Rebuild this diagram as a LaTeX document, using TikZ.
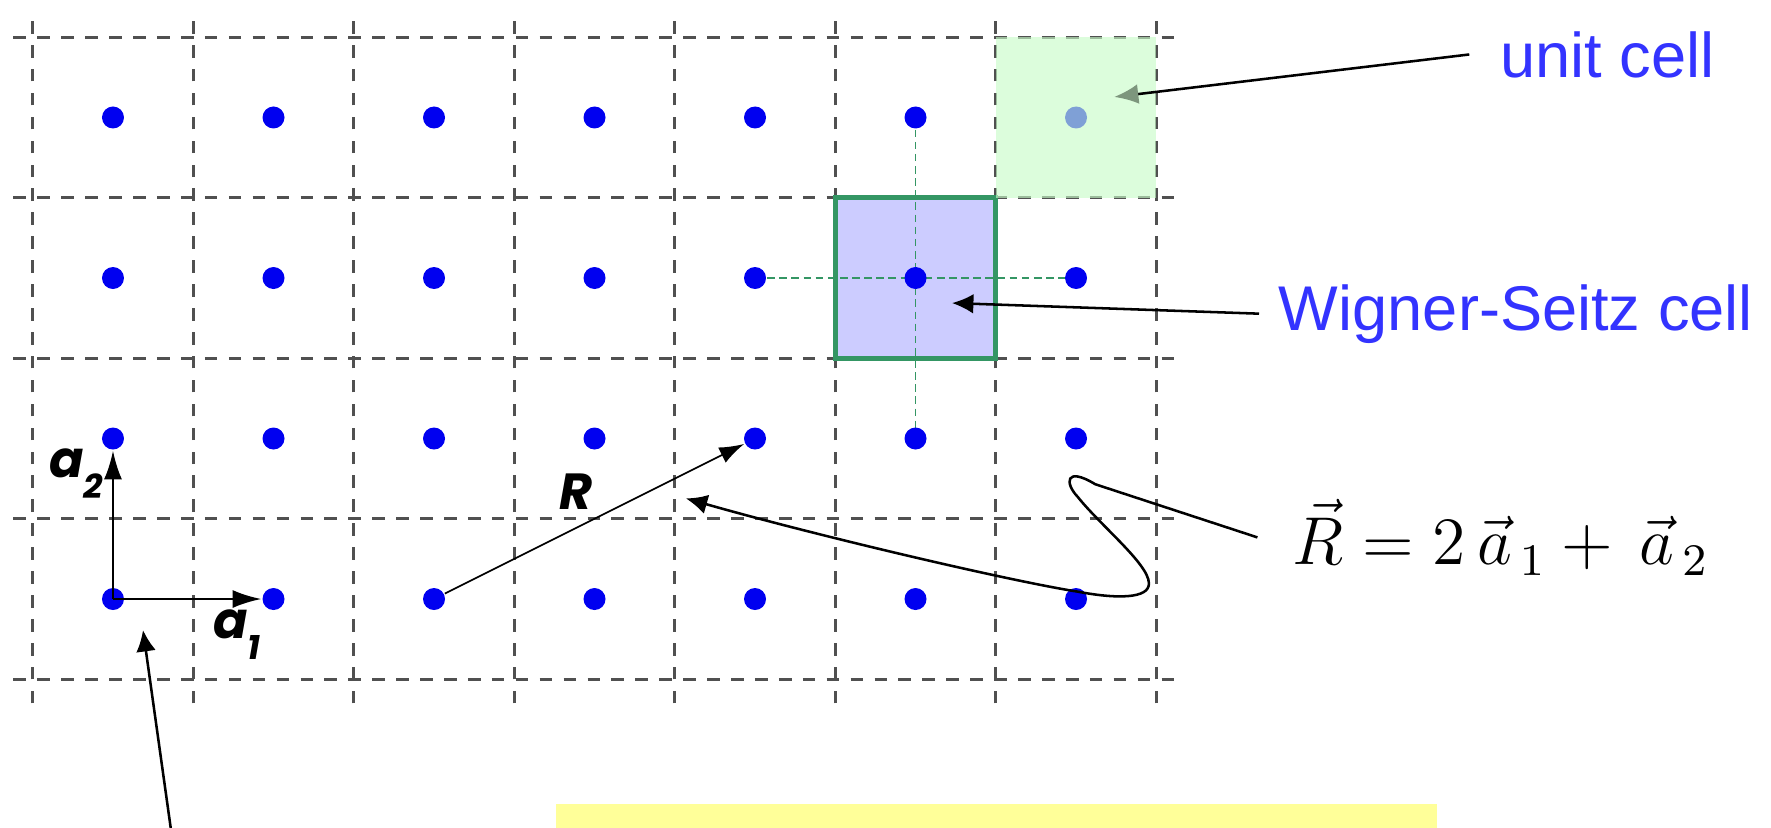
\documentclass[tikz,border=0pt]{standalone}
\usepackage{fontspec}
\usepackage{amsmath}
\usepackage{tikz}
\usetikzlibrary{arrows.meta}
\newfontfamily\cellfont{Liberation Sans}
\newfontfamily\basisfont{Poppins}
\definecolor{dotblue}{RGB}{0,0,240}
\definecolor{gridgray}{RGB}{80,80,80}
\definecolor{wsblue}{RGB}{204,204,255}
\definecolor{wsgreen}{RGB}{52,150,100}
\definecolor{cellgreen}{RGB}{200,252,200}
\definecolor{textblue}{RGB}{51,51,255}
\definecolor{tipgreen}{RGB}{125,150,125}
\definecolor{notebox}{RGB}{255,255,153}
\newcommand{\lowsub}[1]{\raisebox{-0.42em}{\fontsize{6}{7}\selectfont #1}}

\begin{document}
\begin{tikzpicture}[
  lattice/.style={circle,fill=dotblue,inner sep=0pt,minimum size=3.9pt},
  gridline/.style={gridgray,line width=0.5pt,dash pattern=on 2.24pt off 2pt},
  guide/.style={wsgreen,line width=0.25pt,dash pattern=on 1.35pt off 0.8pt},
  basis/.style={-{Latex[length=5.1pt,width=3.2pt]},line width=0.45pt},
  callout/.style={-{Latex[length=3.8pt,width=3.5pt]},line width=0.45pt},
  cellname/.style={text=textblue,font=\cellfont\fontsize{11.2}{13}\selectfont},
  veclabel/.style={font=\basisfont\bfseries\itshape\fontsize{9}{11}\selectfont,inner sep=0pt}
]
\useasboundingbox (-0.704,-1.4206) rectangle (10.33,3.732);
\foreach \x in {-0.5,0.5,...,6.5}
  \draw[gridline] (\x,-0.65) -- (\x,3.62);
\foreach \y in {-0.5,0.5,...,3.5}
  \draw[gridline] (-0.62,\y) -- (6.62,\y);
\foreach \i in {0,...,6}
  \foreach \j in {0,...,3}
    \coordinate (p\i\j) at (\i,\j);
\draw[wsgreen,line width=0.85pt,fill=wsblue] (4.5,1.5) rectangle (5.5,2.5);
\draw[guide] (p53) -- (p51);
\draw[guide] (p42) -- (p62);
\foreach \i in {0,...,6}
  \foreach \j in {0,...,3}
    \node[lattice] (d\i\j) at (p\i\j) {};
\fill[cellgreen,fill opacity=0.635] (5.5,2.5) rectangle (6.5,3.5);
\draw[basis] (d00.center) -- (d10);
\draw[basis] (d00.center) -- (d01);
\draw[-{Latex[length=4.4pt,width=3pt]},line width=0.3pt] (d20) -- (d41);
\node[veclabel,anchor=base west] (a2lab) at (-0.405,0.76) {a\lowsub{2}};
\node[veclabel,anchor=base west] (a1lab) at (0.617,-0.243) {a\lowsub{1}};
\node[veclabel,anchor=base west] (rlab) at (2.773,0.555) {R};
\node[cellname,anchor=base west,inner xsep=5.3pt] (unitcell) at (8.45,3.252) {unit cell};
\node[cellname,anchor=base west] (wigner) at (7.14,1.676) {Wigner-Seitz cell};
\node[anchor=base west,inner xsep=6pt,font=\fontsize{12}{14}\selectfont] (formula) at (7.13,0.212)
  {$\vec{R} = 2\,\vec{a}_{\,1} + \,\vec{a}_{\,2}$};
\coordinate (uctip) at (6.237,3.128);
\coordinate (wstip) at (5.227,1.844);
\coordinate (rtip) at (3.569,0.627);
\coordinate (origtip) at (0.187,-0.193);
\coordinate (offpage) at (0.37,-1.5);
\draw[callout,-{Latex[length=4.3pt,width=3.5pt,color=tipgreen]}] (unitcell.west) -- (uctip);
\draw[callout] (wigner.west) -- (wstip);
\draw[callout] (formula.west) -- (6.12,0.715) .. controls (5.93,0.83) and (5.93,0.72) .. (6.01,0.637)
  .. controls (6.15,0.46) and (6.45,0.22) .. (6.454,0.10)
  .. controls (6.46,0.0) and (6.25,0.0) .. (6.01,0.046)
  .. controls (5.6,0.11) and (4.4,0.39) .. (rtip);
\draw[callout] (offpage) -- (origtip);
\fill[notebox] (2.760,-1.277) rectangle (8.249,-1.5);
\end{tikzpicture}
\end{document}
